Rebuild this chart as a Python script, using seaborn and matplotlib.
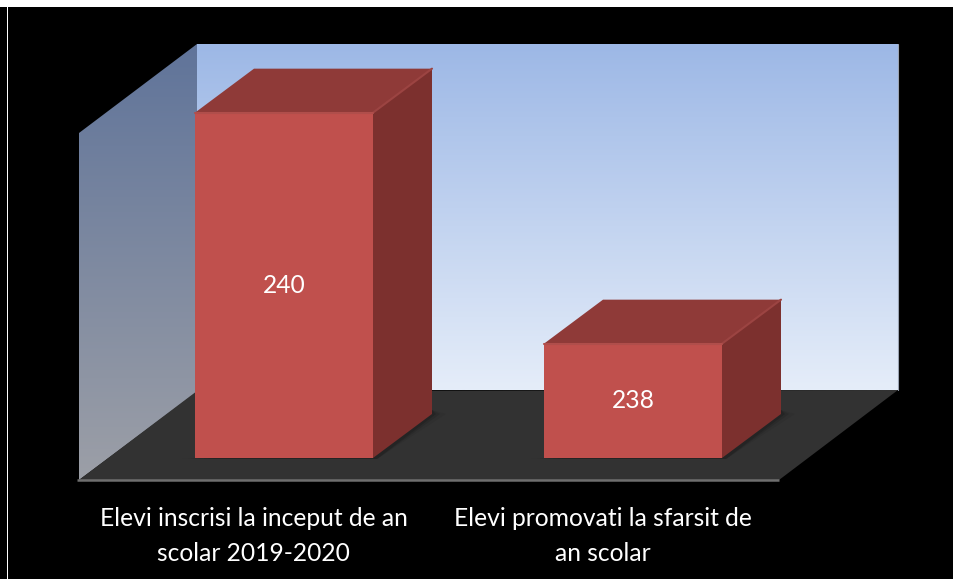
import numpy as np
import pandas as pd
import seaborn as sns
import matplotlib.pyplot as plt
from matplotlib.colors import LinearSegmentedColormap
from matplotlib.patches import Polygon, Rectangle
from matplotlib.transforms import Affine2D, IdentityTransform

categories = ['Elevi inscrisi la inceput de an\nscolar 2019-2020',
              'Elevi promovati la sfarsit de\nan scolar']
values = [240, 238]

W, H = 954, 579

sns.set_theme(style='white')
plt.rcParams['font.family'] = ['Lato', 'DejaVu Sans']

fig = plt.figure(figsize=(W / 100, H / 100), dpi=100, facecolor='black')

# fundal in pixeli, y in jos ca in imagine
bg = fig.add_axes([0, 0, 1, 1], zorder=0)
bg.axis('off')


def gradient(pts, c0, c1):
    # umple poligonul cu un gradient vertical
    xs = [p[0] for p in pts]
    ys = [p[1] for p in pts]
    x0, x1, y0, y1 = min(xs), max(xs), min(ys), max(ys)
    yy = np.linspace(0, 1, 200).reshape(-1, 1)
    cmap = LinearSegmentedColormap.from_list('g', [c0, c1])
    im = bg.imshow(yy, cmap=cmap, vmin=0, vmax=1, aspect='auto',
                   extent=(x0, x1, y1, y0), interpolation='bilinear', zorder=1)
    clip = Polygon(pts, closed=True, transform=bg.transData, fc='none', ec='none')
    bg.add_patch(clip)
    im.set_clip_path(clip)


bg.add_patch(Rectangle((0, 0), W, 7, fc='white', ec='none', zorder=5))
bg.add_patch(Rectangle((7, 0), 1, H, fc='white', ec='none', zorder=5))

# pereti si podea
gradient([(197, 44), (898, 44), (898, 390), (197, 390)], '#9db8e6', '#e5edf9')
gradient([(79, 133), (197, 44), (197, 392), (79, 480)], '#60749a', '#9c9fa7')
bg.plot([898, 898], [44, 390], color='#9aa3b2', lw=0.8, zorder=2)
bg.add_patch(Polygon([(79, 480), (197, 391), (898, 390), (779, 480)], fc='#323232', ec='none', zorder=3))
bg.plot([77, 779], [480, 480], color='#6e6e6e', lw=1.8, zorder=4, solid_capstyle='butt')
bg.set_xlim(0, W)
bg.set_ylim(H, 0)

# fata barelor: axa cu y trunchiat, baza la y=458 px
df = pd.DataFrame({'categorie': categories, 'valoare': values})
ax = fig.add_axes([109.5 / W, (H - 458) / H, 698 / W, 404.25 / H], zorder=2)
ax.patch.set_alpha(0)
sns.barplot(data=df, x='categorie', y='valoare', color='#c0504d', saturation=1, width=0.51, linewidth=0, ax=ax)
ax.set_xlim(-0.5, 1.5)
ax.set_ylim(237.01, 240.51)
sns.despine(ax=ax, left=True, bottom=True)
ax.set_xlabel('')
ax.set_ylabel('')
ax.set_yticks([])
ax.tick_params(axis='x', length=0, pad=0, colors='white', labelsize=17.7)

# etichetele stau sub frontul podelei, nu sub bare
offset = Affine2D().translate(-30.5, -48.5)
for lab in ax.get_xticklabels():
    lab.set_transform(lab.get_transform() + offset)
    lab.set_linespacing(1.64)

ax.bar_label(ax.containers[0], label_type='center', color='white', fontsize=17.7)

# fetele 3D pornesc de la barele desenate
dx, dy = 59, 44
fig.canvas.draw()
for bar in ax.patches:
    box = bar.get_window_extent()
    x0, x1, y1 = box.x0, box.x1, box.y1
    y0 = max(box.y0, ax.bbox.y0)
    # umbra pe podea
    for grow, a in zip([14, 8, 4], [0.06, 0.10, 0.14]):
        ax.add_patch(Polygon([(x0 - grow, y0 - 1), (x1 + 4, y0 - 1), (x1 + dx + grow, y0 + dy),
                              (x1 + dx, y0 + dy + 4), (x1, y0 + 6)],
                             fc='black', ec='none', alpha=a, transform=IdentityTransform(), clip_on=False, zorder=1))
    top = [(x0, y1), (x1, y1), (x1 + dx, y1 + dy), (x0 + dx, y1 + dy)]
    side = [(x1, y0), (x1, y1), (x1 + dx, y1 + dy), (x1 + dx, y0 + dy)]
    ax.add_patch(Polygon(top, fc='#8f3a38', ec='none', transform=IdentityTransform(), clip_on=False, zorder=1.5))
    ax.add_patch(Polygon(side, fc='#7c302e', ec='none', transform=IdentityTransform(), clip_on=False, zorder=1.5))
    ax.plot([x1, x1 + dx], [y1, y1 + dy], color='#9c4442', lw=1.5, transform=IdentityTransform(), clip_on=False, zorder=1.6)
    ax.plot([x0, x1], [y1, y1], color='#b04e4b', lw=1.5, transform=IdentityTransform(), clip_on=False, zorder=3)
    bar.set_zorder(2)

fig.savefig('out.png', dpi=100, facecolor='black')
